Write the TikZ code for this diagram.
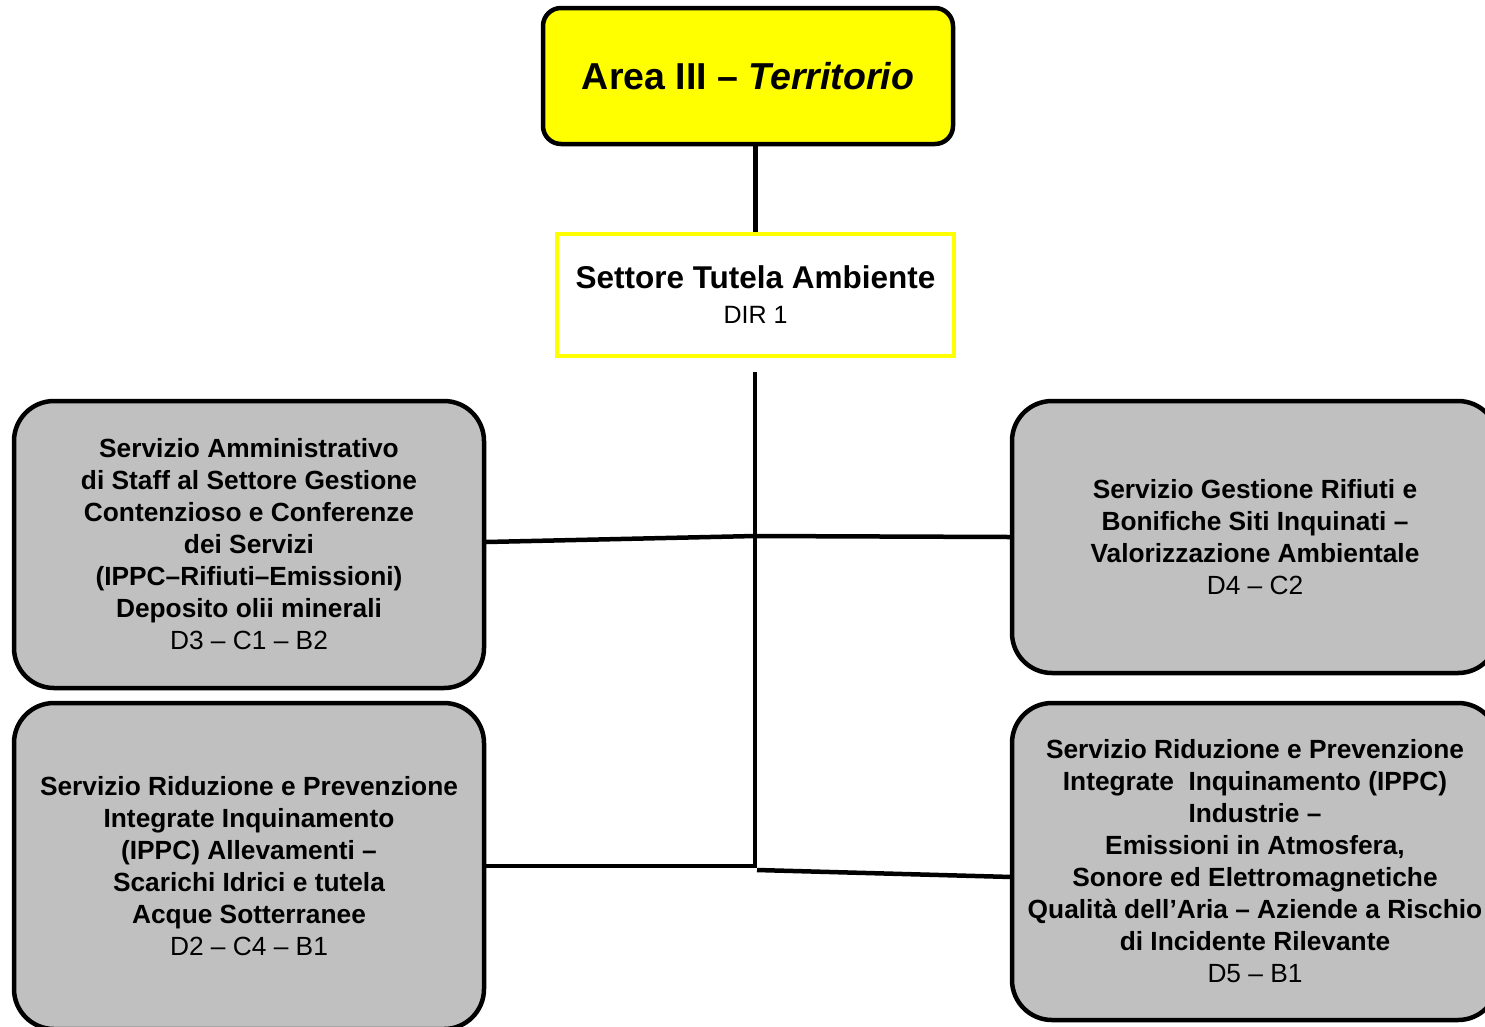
\documentclass[tikz,border=0pt]{standalone}
\usepackage{fontspec}
\setmainfont{Liberation Sans}
\definecolor{boxgray}{RGB}{192,192,192}
\definecolor{ylw}{RGB}{255,255,0}
\begin{document}
\begin{tikzpicture}[x=1pt,y=-1pt,
  conn/.style={line width=4.5pt,black},
  servbox/.style={draw=black,line width=4.5pt,fill=boxgray,rounded corners=40pt,
    minimum width=470pt,inner sep=0pt,align=center,
    font=\fontsize{26.3}{32}\selectfont},
  topbox/.style={draw=black,line width=4.5pt,fill=ylw,rounded corners=18pt,
    minimum width=410pt,minimum height=136pt,inner sep=0pt},
  setbox/.style={draw=ylw,line width=4.5pt,fill=white,
    minimum width=397pt,minimum height=122pt,inner sep=0pt,align=center,
    font=\fontsize{31.5}{35}\selectfont}]
\useasboundingbox (0,0) rectangle (1485,1026);
\clip (0,0) rectangle (1485,1026);

\node[topbox] (top) at (748,76) {\fontsize{37.5}{42}\selectfont\bfseries Area III -- \itshape Territorio};

\node[setbox] (set) at (755.5,295) {\bfseries Settore Tutela Ambiente\\
  \fontsize{25}{35}\selectfont DIR 1};

\node[servbox,minimum height=287pt] (lt) at (249,544.5) {\bfseries Servizio Amministrativo\\
  \bfseries di Staff al Settore Gestione\\
  \bfseries Contenzioso e Conferenze\\
  \bfseries dei Servizi\\
  \bfseries (IPPC--Rifiuti--Emissioni)\\
  \bfseries Deposito olii minerali\\
  D3 -- C1 -- B2};

\node[servbox,minimum width=486pt,minimum height=272pt] (rt) at (1255,537) {\bfseries Servizio Gestione Rifiuti e\\
  \bfseries Bonifiche Siti Inquinati --\\
  \bfseries Valorizzazione Ambientale\\
  D4 -- C2};

\node[servbox,minimum height=326pt] (lb) at (249,866) {\bfseries Servizio Riduzione e Prevenzione\\
  \bfseries Integrate Inquinamento\\
  \bfseries (IPPC) Allevamenti --\\
  \bfseries Scarichi Idrici e tutela\\
  \bfseries Acque Sotterranee\\
  D2 -- C4 -- B1};

\node[servbox,minimum width=486pt,minimum height=317pt] (rb) at (1255,861.5) {\bfseries Servizio Riduzione e Prevenzione\\
  \bfseries Integrate\ \ Inquinamento (IPPC)\\
  \bfseries Industrie --\\
  \bfseries Emissioni in Atmosfera,\\
  \bfseries Sonore ed Elettromagnetiche\\
  \bfseries Qualità dell’Aria -- Aziende a Rischio\\
  \bfseries di Incidente Rilevante\\
  D5 -- B1};

\coordinate (t1) at (755,372);
\coordinate (j1) at (755,536);
\coordinate (j2) at (755,866);
\coordinate (tb) at (755,868);
\coordinate (j3) at (757,870);
\coordinate (ltin) at (486,542);
\coordinate (rbin) at (1012,877);

\draw[conn] (set.north |- top.south) -- (set.north);
\draw[conn] (t1) -- (tb);
\draw[conn] (ltin) -- (j1);
\draw[conn] (j1) -- (rt.west);
\draw[conn] (lb.east) -- (j2);
\draw[conn] (j3) -- (rbin);
\end{tikzpicture}
\end{document}
